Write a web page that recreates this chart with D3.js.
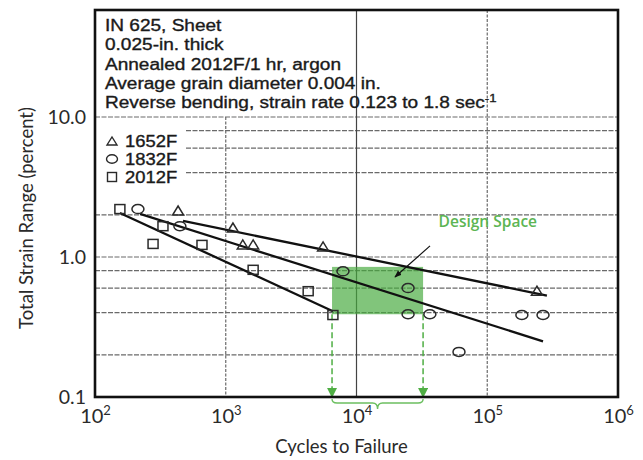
<!DOCTYPE html>
<html>
<head>
<meta charset="utf-8">
<script src="https://cdn.jsdelivr.net/npm/d3@7"></script>
<style>
  body { margin: 0; background: #fff; }
  svg { display: block; }
</style>
</head>
<body>
<div id="chart"></div>
<script>
// fatigue data, IN 625 sheet
const xTicks = [1e2, 1e3, 1e4, 1e5, 1e6];
const yTicks = [0.1, 1, 10];
const yGrid = [0.2, 0.4, 0.6, 0.8, 1, 2, 4, 6, 8, 10];

const headerLines = [
  "IN 625, Sheet",
  "0.025-in. thick",
  "Annealed 2012F/1 hr, argon",
  "Average grain diameter 0.004 in.",
  "Reverse bending, strain rate 0.123 to 1.8 sec"
];
const legendLabels = ["1652F", "1832F", "2012F"];

const tri1652N = [432, 1135, 1350, 1620, 5550, 240000];
const tri1652S = [2.13, 1.61, 1.22, 1.22, 1.18, 0.57];
const circ1832N = [213, 446, 7880, 24800, 24800, 36400, 60800, 184000, 267000];
const circ1832S = [2.2, 1.66, 0.79, 0.6, 0.39, 0.39, 0.21, 0.385, 0.385];
const sq2012N = [155, 331, 278, 658, 1620, 4270, 6600];
const sq2012S = [2.2, 1.66, 1.24, 1.22, 0.81, 0.57, 0.385];

// straight fit lines, endpoints
const fit1652N = [471, 286000], fit1652S = [1.81, 0.53];
const fit1832N = [221, 267000], fit1832S = [2.03, 0.25];
const fit2012N = [155, 6600],   fit2012S = [2.06, 0.41];

// design space box + annotation
const designN = [6500, 32300];
const designS = [0.39, 0.85];
const arrowN = [36500, 19700], arrowS = [1.2, 0.72];
const designLabelN = 1.01e5, designLabelS = 1.78;

const W = 643, H = 460;
const mLeft = 95, mRight = 618, mTop = 10, mBottom = 397;

const svg = d3.select("#chart").append("svg")
  .attr("width", W).attr("height", H);

const x = d3.scaleLog().domain([1e2, 1e6]).range([mLeft, mRight]);
const y = d3.scaleLog().domain([0.1, 10]).range([mBottom, 117]);

const defs = svg.append("defs");
defs.append("marker").attr("id", "blackArrow")
  .attr("viewBox", "0 0 10 10").attr("refX", 9).attr("refY", 5)
  .attr("markerWidth", 6).attr("markerHeight", 6).attr("orient", "auto")
  .append("path").attr("d", "M0,1 L10,5 L0,9 z").attr("fill", "#111");
defs.append("marker").attr("id", "greenArrow")
  .attr("viewBox", "0 0 10 10").attr("refX", 9).attr("refY", 5)
  .attr("markerWidth", 10).attr("markerHeight", 10).attr("orient", "auto")
  .attr("markerUnits", "userSpaceOnUse")
  .append("path").attr("d", "M0,0 L10,5 L0,10 z").attr("fill", "#4fae44");

// horizontal grid
svg.append("g").selectAll("line").data(yGrid).join("line")
  .attr("x1", mLeft).attr("x2", mRight)
  .attr("y1", d => y(d)).attr("y2", d => y(d))
  .attr("stroke", "#6a6a6a").attr("stroke-width", 1.2)
  .attr("stroke-dasharray", "5,1.5");

// vertical grid (10^3 stops at the 10.0 line, header sits above)
svg.append("g").selectAll("line").data([1e3, 1e4, 1e5]).join("line")
  .attr("x1", d => x(d)).attr("x2", d => x(d))
  .attr("y1", d => d === 1e3 ? y(10) : mTop).attr("y2", mBottom)
  .attr("stroke", d => d === 1e4 ? "#444" : "#6a6a6a")
  .attr("stroke-width", 1.2)
  .attr("stroke-dasharray", d => d === 1e4 ? null : "3,1.5");

// white patch behind legend
svg.append("rect").attr("x", mLeft + 1).attr("y", 126)
  .attr("width", 90).attr("height", 60).attr("fill", "#fff");

// design space
svg.append("rect")
  .attr("x", x(designN[0])).attr("y", y(designS[1]))
  .attr("width", x(designN[1]) - x(designN[0]))
  .attr("height", y(designS[0]) - y(designS[1]))
  .attr("fill", "rgb(70,170,60)").attr("fill-opacity", 0.68);

// green dashed drop lines
svg.append("g").selectAll("line").data(designN).join("line")
  .attr("x1", d => x(d)).attr("x2", d => x(d))
  .attr("y1", y(designS[0])).attr("y2", mBottom)
  .attr("stroke", "#4fae44").attr("stroke-width", 1.5)
  .attr("stroke-dasharray", "6,3")
  .attr("marker-end", "url(#greenArrow)");

// brace under the axis
{
  const x0 = x(designN[0]), x1 = x(designN[1]), xm = (x0 + x1) / 2;
  const b = mBottom + 2, m = mBottom + 6, t = mBottom + 12;
  svg.append("path")
    .attr("d", `M${x0},${b} Q${x0},${m} ${x0 + 5},${m} L${xm - 5},${m} Q${xm},${m} ${xm},${t} Q${xm},${m} ${xm + 5},${m} L${x1 - 5},${m} Q${x1},${m} ${x1},${b}`)
    .attr("fill", "none").attr("stroke", "#6cbf60").attr("stroke-width", 1.4);
}

// fit lines
const fits = [[fit1652N, fit1652S], [fit1832N, fit1832S], [fit2012N, fit2012S]];
const line = d3.line().x(d => x(d[0])).y(d => y(d[1]));
svg.append("g").selectAll("path").data(fits).join("path")
  .attr("d", f => line(d3.zip(f[0], f[1])))
  .attr("fill", "none").attr("stroke", "#111").attr("stroke-width", 2.3);

// markers
const mk = svg.append("g").attr("fill", "none").attr("stroke", "#2a2a2a").attr("stroke-width", 1.5);
mk.selectAll(".tri").data(d3.zip(tri1652N, tri1652S)).join("path")
  .attr("d", d => { const cx = x(d[0]), cy = y(d[1]); return `M${cx - 5.5},${cy + 4} L${cx + 5.5},${cy + 4} L${cx},${cy - 5} Z`; });
mk.selectAll(".circ").data(d3.zip(circ1832N, circ1832S)).join("ellipse")
  .attr("cx", d => x(d[0])).attr("cy", d => y(d[1])).attr("rx", 6).attr("ry", 4.5);
mk.selectAll(".sq").data(d3.zip(sq2012N, sq2012S)).join("rect")
  .attr("x", d => x(d[0]) - 5).attr("y", d => y(d[1]) - 4.5)
  .attr("width", 10).attr("height", 9);

// annotation arrow + label
svg.append("line")
  .attr("x1", x(arrowN[0])).attr("y1", y(arrowS[0]))
  .attr("x2", x(arrowN[1])).attr("y2", y(arrowS[1]))
  .attr("stroke", "#111").attr("stroke-width", 1.2)
  .attr("marker-end", "url(#blackArrow)");
svg.append("text")
  .attr("x", x(designLabelN)).attr("y", y(designLabelS))
  .attr("text-anchor", "middle").attr("dy", "0.35em")
  .attr("font-family", "'Open Sans', Lato, sans-serif")
  .attr("font-weight", 600).attr("font-size", 15.5)
  .attr("fill", "#5cb553")
  .text("Design Space");

// header text (scan is stretched horizontally)
const hdr = svg.append("g")
  .attr("transform", "translate(105,0) scale(1.19,1)")
  .attr("font-family", "'Liberation Sans', Arial, sans-serif")
  .attr("font-size", 16).attr("fill", "#1a1a1a")
  .attr("stroke", "#1a1a1a").attr("stroke-width", 0.35);
hdr.selectAll("text").data(headerLines).join("text")
  .attr("x", 0).attr("y", (d, i) => 31 + i * 19.3)
  .text(d => d)
  .filter((d, i) => i === headerLines.length - 1)
  .append("tspan").attr("font-size", 11).attr("dy", -6).text("-1");

// legend
const lg = svg.append("g").attr("stroke", "#2a2a2a").attr("stroke-width", 1.4).attr("fill", "none");
const ly = [141, 159, 177];
lg.append("path").attr("d", `M${107},${ly[0] + 4} L${117},${ly[0] + 4} L${112},${ly[0] - 4} Z`);
lg.append("ellipse").attr("cx", 112).attr("cy", ly[1]).attr("rx", 5.5).attr("ry", 4.3);
lg.append("rect").attr("x", 107.5).attr("y", ly[2] - 4.5).attr("width", 9).attr("height", 9);
const lgt = svg.append("g")
  .attr("transform", "translate(125,0) scale(1.15,1)")
  .attr("font-family", "'Liberation Sans', Arial, sans-serif")
  .attr("font-size", 16).attr("fill", "#1a1a1a")
  .attr("stroke", "#1a1a1a").attr("stroke-width", 0.35);
lgt.selectAll("text").data(legendLabels).join("text")
  .attr("x", 0).attr("y", (d, i) => ly[i]).attr("dy", "0.36em")
  .text(d => d);

// frame
svg.append("rect").attr("x", mLeft).attr("y", mTop)
  .attr("width", mRight - mLeft).attr("height", mBottom - mTop)
  .attr("fill", "none").attr("stroke", "#111").attr("stroke-width", 2.6);

// axes
const axisFont = "Lato, 'Open Sans', sans-serif";
const yAxis = svg.append("g").attr("transform", `translate(${mLeft},0)`)
  .call(d3.axisLeft(y).tickValues(yTicks).tickSize(0).tickPadding(9).tickFormat(d3.format(".1f")));
yAxis.select(".domain").remove();
yAxis.selectAll("text").attr("font-family", axisFont).attr("font-size", 19.5).attr("fill", "#2a2a2a");

const xAxis = svg.append("g").attr("transform", `translate(0,${mBottom})`)
  .call(d3.axisBottom(x).tickValues(xTicks).tickSize(0).tickPadding(12).tickFormat(() => ""));
xAxis.select(".domain").remove();
xAxis.selectAll(".tick text").each(function(d) {
  const t = d3.select(this).attr("font-family", axisFont).attr("font-size", 20).attr("fill", "#2a2a2a");
  t.append("tspan").text("10");
  t.append("tspan").attr("font-size", 13).attr("dy", "-0.6em").text(Math.round(Math.log10(d)));
});

svg.append("text").attr("x", (mLeft + mRight) / 2 - 15).attr("y", 447)
  .attr("text-anchor", "middle").attr("dy", "0.35em")
  .attr("font-family", axisFont).attr("font-size", 18.5).attr("fill", "#2a2a2a")
  .text("Cycles to Failure");

svg.append("text")
  .attr("transform", "translate(27,218) rotate(-90)")
  .attr("text-anchor", "middle").attr("dy", "0.35em")
  .attr("font-family", axisFont).attr("font-size", 18.5).attr("fill", "#2a2a2a")
  .text("Total Strain Range (percent)");
</script>
</body>
</html>
